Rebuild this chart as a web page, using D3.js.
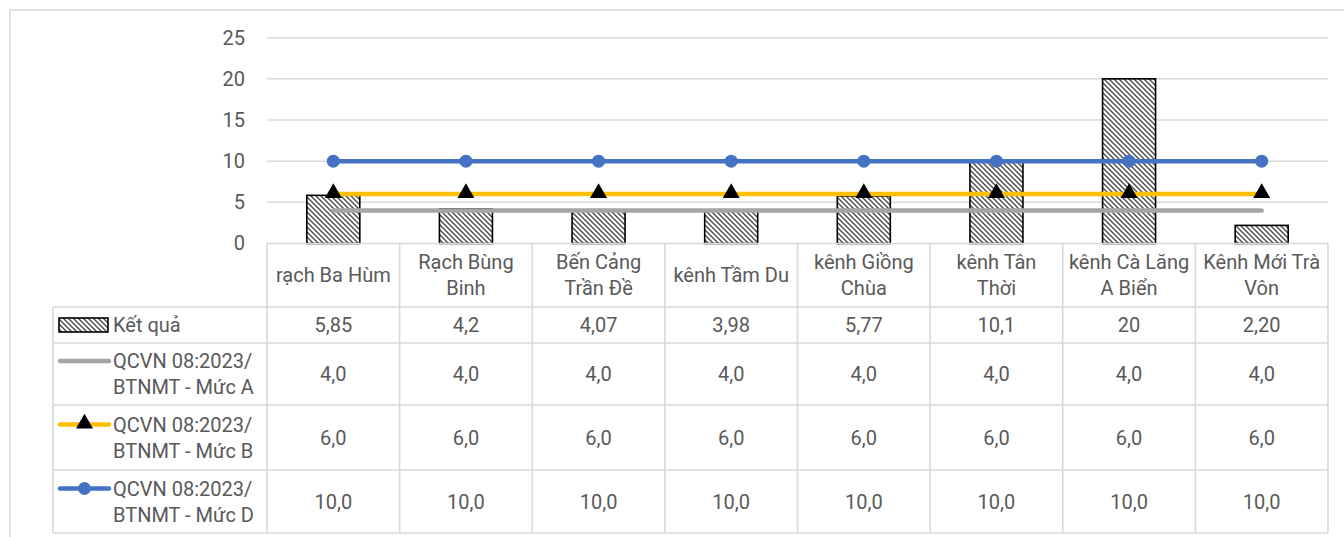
<!DOCTYPE html>
<html>
<head>
<meta charset="utf-8">
<script src="https://cdn.jsdelivr.net/npm/d3@7"></script>
<style>
  body { margin: 0; background: #fff; }
  svg text { font-family: Roboto, "Liberation Sans", sans-serif; fill: #595959; }
</style>
</head>
<body>
<div id="chart"></div>
<script>
const categories = [
  ['rạch Ba Hùm'],
  ['Rạch Bùng', 'Binh'],
  ['Bến Cảng', 'Trần Đề'],
  ['kênh Tầm Du'],
  ['kênh Giồng', 'Chùa'],
  ['kênh Tân', 'Thời'],
  ['kênh Cà Lăng', 'A Biển'],
  ['Kênh Mới Trà', 'Vôn']
];
const ketQua      = [5.85, 4.2, 4.07, 3.98, 5.77, 10.1, 20, 2.20];
const ketQuaLabel = ['5,85', '4,2', '4,07', '3,98', '5,77', '10,1', '20', '2,20'];
const mucA = [4, 4, 4, 4, 4, 4, 4, 4];
const mucB = [6, 6, 6, 6, 6, 6, 6, 6];
const mucD = [10, 10, 10, 10, 10, 10, 10, 10];
const yTicks = [0, 5, 10, 15, 20, 25];

const seriesNames = [
  ['Kết quả'],
  ['QCVN 08:2023/', 'BTNMT - Mức A'],
  ['QCVN 08:2023/', 'BTNMT - Mức B'],
  ['QCVN 08:2023/', 'BTNMT - Mức D']
];

const grid  = '#d9d9d9';
const gray  = '#a5a5a5';
const gold  = '#ffc000';
const blue  = '#4472c4';

const W = 1344, H = 537;
const plotL = 267, plotR = 1328, plotT = 37.7, plotB = 243.5;
const tableL = 53;
const rowEdges = [243.5, 307, 343, 405, 470, 533];

const svg = d3.select('#chart').append('svg').attr('width', W).attr('height', H);

// hatch pattern (wide downward diagonal)
const pat = svg.append('defs').append('pattern')
  .attr('id', 'hatch').attr('patternUnits', 'userSpaceOnUse')
  .attr('width', 5).attr('height', 5);
pat.append('rect').attr('width', 5).attr('height', 5).attr('fill', '#fff');
pat.append('path').attr('d', 'M-1,-1L6,6M-1,4L1,6M4,-1L6,1')
  .attr('stroke', '#4a4a4a').attr('stroke-width', 1.4);

// outer frame
svg.append('rect').attr('x', 10).attr('y', 10).attr('width', W).attr('height', H)
  .attr('fill', 'none').attr('stroke', grid).attr('stroke-width', 1.5);

const idx = d3.range(categories.length);
const x = d3.scaleBand().domain(idx).range([plotL, plotR]);
const y = d3.scaleLinear().domain([0, 25]).range([plotB, plotT]);
const cx = i => x(i) + x.bandwidth() / 2;

// gridlines
svg.append('g').selectAll('line').data(yTicks.slice(1)).join('line')
  .attr('x1', plotL).attr('x2', plotR)
  .attr('y1', d => y(d)).attr('y2', d => y(d))
  .attr('stroke', grid).attr('stroke-width', 1.5);

// y axis labels
svg.append('g').attr('transform', `translate(${plotL - 20},0)`)
  .call(d3.axisLeft(y).tickValues(yTicks).tickSize(0).tickPadding(2))
  .call(a => a.select('.domain').remove())
  .call(a => a.selectAll('text').style('font-size', '20px').attr('fill', '#595959'));

// bars
const barW = 53;
svg.append('g').selectAll('rect').data(ketQua).join('rect')
  .attr('x', (d, i) => cx(i) - barW / 2)
  .attr('y', d => y(d))
  .attr('width', barW)
  .attr('height', d => y(0) - y(d))
  .attr('fill', 'url(#hatch)')
  .attr('stroke', '#000').attr('stroke-width', 1.6);

const line = d3.line().x((d, i) => cx(i)).y(d => y(d));
const tri = d3.symbol().type(d3.symbolTriangle).size(125);

svg.append('path').datum(mucA).attr('d', line)
  .attr('fill', 'none').attr('stroke', gray).attr('stroke-width', 4.5).attr('stroke-linecap', 'round');

svg.append('path').datum(mucB).attr('d', line)
  .attr('fill', 'none').attr('stroke', gold).attr('stroke-width', 4.5).attr('stroke-linecap', 'round');
svg.append('g').selectAll('path').data(mucB).join('path')
  .attr('d', tri).attr('transform', (d, i) => `translate(${cx(i)},${y(d) - 1})`).attr('fill', '#000');

svg.append('path').datum(mucD).attr('d', line)
  .attr('fill', 'none').attr('stroke', blue).attr('stroke-width', 4.5).attr('stroke-linecap', 'round');
svg.append('g').selectAll('circle').data(mucD).join('circle')
  .attr('cx', (d, i) => cx(i)).attr('cy', d => y(d)).attr('r', 6.5).attr('fill', blue);

// data table
const tbl = svg.append('g');
const bline = (x1, y1, x2, y2) => tbl.append('line')
  .attr('x1', x1).attr('y1', y1).attr('x2', x2).attr('y2', y2)
  .attr('stroke', grid).attr('stroke-width', 1.6);

bline(plotL, rowEdges[0], plotR, rowEdges[0]);
rowEdges.slice(1).forEach(r => bline(tableL, r, plotR, r));
bline(tableL, rowEdges[1], tableL, rowEdges[5]);
idx.concat([categories.length]).forEach(i => {
  const xx = i < categories.length ? x(i) : plotR;
  bline(xx, rowEdges[0], xx, rowEdges[5]);
});

const lh = 26;
function multiline(g, lines, xx, yc, anchor) {
  const t = g.append('text').attr('text-anchor', anchor).style('font-size', '20px');
  lines.forEach((s, k) => {
    t.append('tspan').attr('x', xx)
      .attr('y', yc + (k - (lines.length - 1) / 2) * lh)
      .attr('dy', '0.35em').text(s);
  });
  return t;
}

// header row
categories.forEach((c, i) => multiline(tbl, c, cx(i), (rowEdges[0] + rowEdges[1]) / 2, 'middle'));

// value rows
const fmt = v => v.toFixed(1).replace('.', ',');
const rows = [ketQuaLabel, mucA.map(fmt), mucB.map(fmt), mucD.map(fmt)];
rows.forEach((vals, r) => {
  const yc = (rowEdges[r + 1] + rowEdges[r + 2]) / 2;
  vals.forEach((v, i) => multiline(tbl, [v], cx(i), yc, 'middle'));
  const names = seriesNames[r];
  multiline(tbl, names, 113, yc, 'start');
  const ky = yc - (names.length - 1) / 2 * lh;
  if (r === 0) {
    tbl.append('rect').attr('x', 59).attr('y', ky - 7).attr('width', 49).attr('height', 14)
      .attr('fill', 'url(#hatch)').attr('stroke', '#000').attr('stroke-width', 1.6);
  } else {
    const col = [gray, gold, blue][r - 1];
    tbl.append('line').attr('x1', 60).attr('x2', 109).attr('y1', ky).attr('y2', ky)
      .attr('stroke', col).attr('stroke-width', 4.5).attr('stroke-linecap', 'round');
    if (r === 2) tbl.append('path').attr('d', tri).attr('transform', `translate(84.5,${ky - 1})`).attr('fill', '#000');
    if (r === 3) tbl.append('circle').attr('cx', 84.5).attr('cy', ky).attr('r', 6.5).attr('fill', blue);
  }
});
</script>
</body>
</html>
